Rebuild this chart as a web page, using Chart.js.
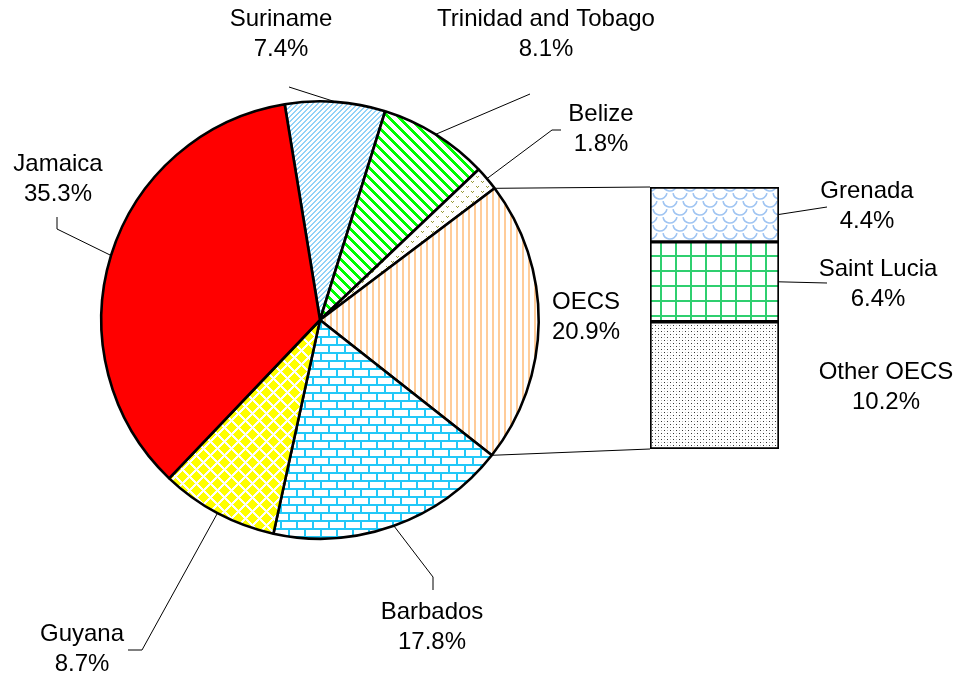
<!DOCTYPE html>
<html><head><meta charset="utf-8">
<script src="https://cdn.jsdelivr.net/npm/chart.js@4.4.0/dist/chart.umd.min.js"></script>
<style>
html,body{margin:0;padding:0;background:#fff;}
#wrap{position:relative;width:964px;height:681px;background:#fff;}
canvas{position:absolute;left:0;top:0;}
</style></head><body>
<div id="wrap"><canvas id="pie" width="964" height="681"></canvas><canvas id="bar" width="964" height="681"></canvas></div>
<script>
// ---- data ----
const pieCategories = ['Suriname', 'Trinidad and Tobago', 'Belize', 'OECS', 'Barbados', 'Guyana', 'Jamaica'];
const pieValues = [7.4, 8.1, 1.8, 20.9, 17.8, 8.7, 35.3];
const barCategories = ['Other OECS', 'Saint Lucia', 'Grenada'];
const barValues = [10.2, 6.4, 4.4];

// ---- layout / style (kept apart from data) ----
const pieRotationDeg = -9.3;
const FONT = '24px "Liberation Sans", Arial, sans-serif';
const LINE_GAP = 30;
const pieLabelLayout = {
  'Suriname':            {x: 281, y: 19,  path: [[289, 87]]},
  'Trinidad and Tobago': {x: 546, y: 19,  path: [[530, 94]]},
  'Belize':              {x: 601, y: 114, path: [[552, 130], [561, 130]]},
  'OECS':                {x: 586, y: 302, path: null},
  'Barbados':            {x: 432, y: 612, path: [[433, 577], [433, 590]]},
  'Guyana':              {x: 82,  y: 634, path: [[142, 650], [128, 650]]},
  'Jamaica':             {x: 58,  y: 164, path: [[57, 229], [57, 217]]}
};
const barLabelLayout = {
  'Grenada':    {x: 867, y: 191, path: [[827, 207]]},
  'Saint Lucia':{x: 878, y: 269, path: [[827, 283]]},
  'Other OECS': {x: 886, y: 372, path: null}
};

const pieCtx = document.getElementById('pie').getContext('2d');
function pixelPattern(w, h, fn, bg) {
  const c = document.createElement('canvas'); c.width = w; c.height = h;
  const x = c.getContext('2d');
  x.fillStyle = bg || '#fff'; x.fillRect(0, 0, w, h);
  for (let j = 0; j < h; j++) for (let i = 0; i < w; i++) {
    const col = fn(i, j);
    if (col) { x.fillStyle = col; x.fillRect(i, j, 1, 1); }
  }
  return pieCtx.createPattern(c, 'repeat');
}
function mod(a, n) { return ((a % n) + n) % n; }

const patSuriname = pixelPattern(5, 5, (x, y) => mod(x + y, 5) < 2 ? '#92d2f7' : null);
const patTrinidad = pixelPattern(10, 10, (x, y) => mod(x - y, 10) < 4 ? '#00ff00' : null);
const patBelize = pixelPattern(10, 10, (x, y) => {
  const pts = ['1,1', '2,2', '3,1', '6,6', '7,7', '8,6'];
  return pts.includes(x + ',' + y) ? '#9a9a3a' : null;
});
const patOECS = pixelPattern(6, 6, (x, y) => x < 2 ? '#ffcc99' : null);
const patBricks = pixelPattern(16, 16, (x, y) => {
  if (y % 8 < 2) return '#22c8f8';
  const vx = Math.floor(y / 8) === 0 ? 0 : 8;
  if (x === vx || x === vx + 1) return '#22c8f8';
  return null;
});
const patGuyana = pixelPattern(14, 14, (x, y) => {
  const d1 = Math.min(Math.abs(x), Math.abs(x - 14)) + Math.min(Math.abs(y), Math.abs(y - 14));
  const d2 = Math.abs(x - 7) + Math.abs(y - 7);
  return (d1 <= 5 || d2 <= 5) ? '#ffff00' : null;
});
const patJamaica = '#ff0000';
const patGrenada = (function () {
  const c = document.createElement('canvas'); c.width = 20; c.height = 16;
  const x = c.getContext('2d');
  x.fillStyle = '#fff'; x.fillRect(0, 0, 20, 16);
  x.strokeStyle = '#9fc4f2'; x.lineWidth = 1.6;
  const centers = [[0, 0], [20, 0], [10, 8], [0, 16], [20, 16], [10, -8]];
  centers.forEach(([cx, cy]) => { x.beginPath(); x.arc(cx, cy, 7, 0.15, Math.PI - 0.15); x.stroke(); });
  return pieCtx.createPattern(c, 'repeat');
})();
const patStLucia = pixelPattern(15, 15, (x, y) => (x < 2 || y < 2) ? '#2fcf6f' : null);
const patOther = pixelPattern(6, 6, (x, y) => ((x === 1 && y === 1) || (x === 4 && y === 4)) ? '#333' : ((x === 1 && y === 4) || (x === 4 && y === 1) ? '#bbb' : null));

const piePatterns = [patSuriname, patTrinidad, patBelize, patOECS, patBricks, patGuyana, patJamaica];
const barPatterns = [patOther, patStLucia, patGrenada];

function drawLabel(ctx, name, value, lay) {
  ctx.save();
  ctx.font = FONT; ctx.fillStyle = '#000'; ctx.textAlign = 'center'; ctx.textBaseline = 'middle';
  ctx.fillText(name, lay.x, lay.y);
  ctx.fillText(value.toFixed(1) + '%', lay.x, lay.y + LINE_GAP);
  ctx.restore();
}
function drawPath(ctx, start, pts) {
  ctx.save();
  ctx.strokeStyle = '#000'; ctx.lineWidth = 1;
  ctx.beginPath(); ctx.moveTo(start[0], start[1]);
  pts.forEach(p => ctx.lineTo(p[0], p[1]));
  ctx.stroke(); ctx.restore();
}
function arcPoint(arc, angle) {
  return [arc.x + arc.outerRadius * Math.cos(angle), arc.y + arc.outerRadius * Math.sin(angle)];
}

const pieChart = new Chart(pieCtx, {
  type: 'pie',
  data: { labels: pieCategories, datasets: [{ data: pieValues, backgroundColor: piePatterns,
    borderColor: '#000', borderWidth: 2.6, hoverBorderWidth: 2.6, hoverOffset: 0 }] },
  options: {
    responsive: false, animation: false, events: [],
    rotation: pieRotationDeg,
    layout: { padding: { left: 100, right: 424, top: 100, bottom: 141 } },
    plugins: { legend: { display: false }, tooltip: { enabled: false } }
  }
});

const overlayPlugin = {
  id: 'overlay',
  afterDraw(chart) {
    const ctx = chart.ctx;
    const pieArcs = pieChart.getDatasetMeta(0).data;
    pieCategories.forEach((name, i) => {
      const lay = pieLabelLayout[name];
      const arc = pieArcs[i];
      if (lay.path) {
        const mid = (arc.startAngle + arc.endAngle) / 2;
        drawPath(ctx, arcPoint(arc, mid), lay.path);
      }
      drawLabel(ctx, name, pieValues[i], lay);
    });
    const oecs = pieArcs[pieCategories.indexOf('OECS')];
    const metas = barCategories.map((_, i) => chart.getDatasetMeta(i).data[0]);
    const topBar = metas[metas.length - 1], botBar = metas[0];
    const left = topBar.x - topBar.width / 2;
    drawPath(ctx, arcPoint(oecs, oecs.startAngle), [[left, topBar.y]]);
    drawPath(ctx, arcPoint(oecs, oecs.endAngle), [[left, botBar.base]]);
    barCategories.forEach((name, i) => {
      const lay = barLabelLayout[name];
      const el = metas[i];
      if (lay.path) {
        drawPath(ctx, [el.x + el.width / 2, (el.y + el.base) / 2], lay.path);
      }
      drawLabel(ctx, name, barValues[i], lay);
    });
  }
};

const barChart = new Chart(document.getElementById('bar').getContext('2d'), {
  type: 'bar',
  data: {
    labels: ['OECS'],
    datasets: barCategories.map((name, i) => ({
      label: name, data: [barValues[i]], backgroundColor: barPatterns[i],
      borderColor: '#000', borderWidth: 2, borderSkipped: false,
      barPercentage: 1, categoryPercentage: 1
    }))
  },
  options: {
    responsive: false, animation: false, events: [],
    layout: { padding: { left: 650, right: 185, top: 187, bottom: 232 } },
    scales: {
      x: { display: false, stacked: true },
      y: { display: false, stacked: true, min: 0, max: 21 }
    },
    plugins: { legend: { display: false }, tooltip: { enabled: false } }
  },
  plugins: [overlayPlugin]
});
</script>
</body></html>
